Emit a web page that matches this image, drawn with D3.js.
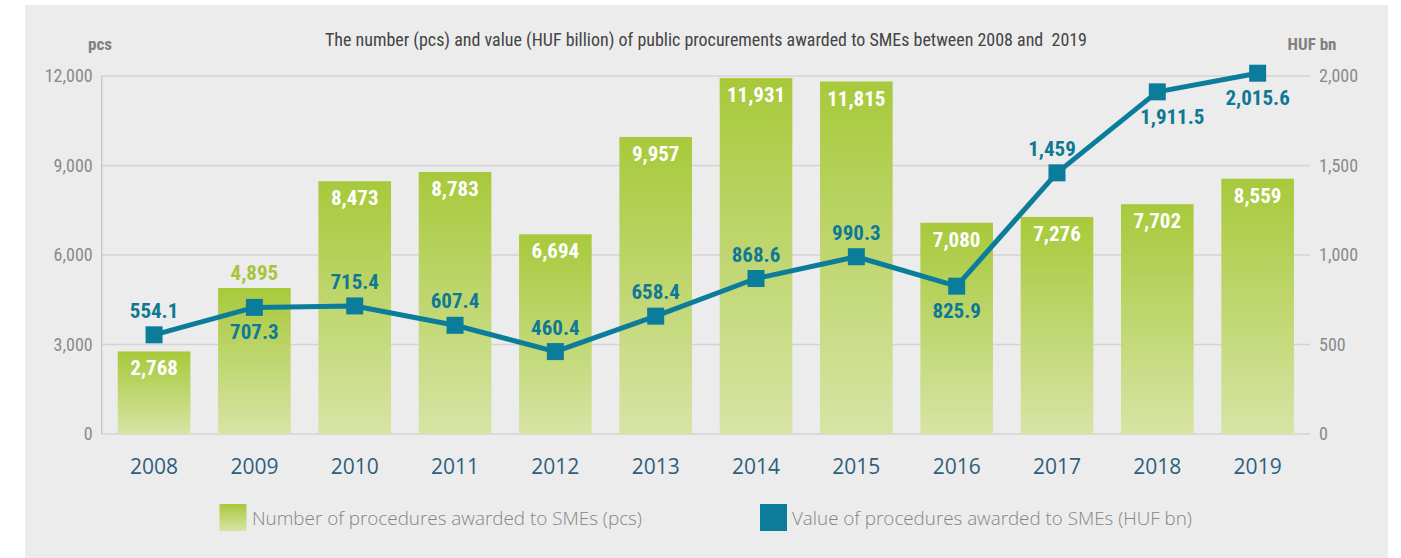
<!DOCTYPE html>
<html>
<head>
<meta charset="utf-8">
<script src="https://cdn.jsdelivr.net/npm/d3@7"></script>
<style>
  body { margin: 0; background: #fff; }
  svg { display: block; }
  .narrow { font-family: "Liberation Sans Narrow", "Roboto Condensed", "DejaVu Sans Condensed", "Liberation Sans", sans-serif; font-stretch: condensed; }
  .regular { font-family: "Open Sans", "Noto Sans", sans-serif; }
</style>
</head>
<body>
<script>
// data
let years = ["2008", "2009", "2010", "2011", "2012", "2013", "2014", "2015", "2016", "2017", "2018", "2019"];
let procCount = [2768, 4895, 8473, 8783, 6694, 9957, 11931, 11815, 7080, 7276, 7702, 8559];
let procValue = [554.1, 707.3, 715.4, 607.4, 460.4, 658.4, 868.6, 990.3, 825.9, 1459, 1911.5, 2015.6];
let leftTicks = [0, 3000, 6000, 9000, 12000];
let rightTicks = [0, 500, 1000, 1500, 2000];
let legendNames = ["Number of procedures awarded to SMEs (pcs)", "Value of procedures awarded to SMEs (HUF bn)"];
let title = "The number (pcs) and value (HUF billion) of public procurements awarded to SMEs between 2008 and  2019";

let W = 1401, H = 558;
let x0 = 101.7, x1 = 1310, yTop = 76, yBot = 434;
let teal = "#0b7d9a";

let svg = d3.select("body").append("svg")
    .attr("width", W)
    .attr("height", H);

// gradient for bars
let defs = svg.append("defs");
let grad = defs.append("linearGradient")
    .attr("id", "barGrad")
    .attr("x1", 0).attr("y1", 0).attr("x2", 0).attr("y2", 1);
grad.append("stop").attr("offset", "0%").attr("stop-color", "#a8c93b");
grad.append("stop").attr("offset", "100%").attr("stop-color", "#d7e4a5");

// grey panel
svg.append("rect")
    .attr("x", 25).attr("y", 5)
    .attr("width", 1363).attr("height", H - 5)
    .attr("fill", "#ececec");

let x = d3.scaleBand()
    .domain(years)
    .range([x0, x1])
    .paddingInner(0.276)
    .paddingOuter(0.16);

let yL = d3.scaleLinear().domain([0, 12000]).range([yBot, yTop]);
let yR = d3.scaleLinear().domain([0, 2000]).range([yBot, yTop]);

// gridlines
svg.append("g").selectAll("line")
    .data(leftTicks)
  .enter().append("line")
    .attr("x1", x0).attr("x2", x1)
    .attr("y1", d => yL(d)).attr("y2", d => yL(d))
    .attr("stroke", "#d3d3d3")
    .attr("stroke-width", 1.6);

svg.append("line")
    .attr("x1", x0).attr("x2", x0)
    .attr("y1", yTop).attr("y2", yBot)
    .attr("stroke", "#c8c8c8")
    .attr("stroke-width", 1.4);

// left axis labels
let axL = svg.append("g")
    .attr("transform", "translate(" + x0 + ",0)")
    .call(d3.axisLeft(yL).tickValues(leftTicks).tickSize(0).tickPadding(9).tickFormat(d3.format(",")));
axL.select(".domain").remove();
axL.selectAll("text")
    .attr("class", "narrow")
    .attr("font-size", 18)
    .attr("fill", "#8a8a8a");

// right axis labels
let axR = svg.append("g")
    .attr("transform", "translate(" + x1 + ",0)")
    .call(d3.axisRight(yR).tickValues(rightTicks).tickSize(0).tickPadding(9).tickFormat(d3.format(",")));
axR.select(".domain").remove();
axR.selectAll("text")
    .attr("class", "narrow")
    .attr("font-size", 18)
    .attr("fill", "#8a8a8a");

// year labels
let axX = svg.append("g")
    .attr("transform", "translate(0," + yBot + ")")
    .call(d3.axisBottom(x).tickSize(0).tickPadding(25));
axX.select(".domain").remove();
axX.selectAll("text")
    .attr("class", "regular")
    .attr("font-size", 21)
    .attr("fill", "#2c5f7e");

// bars
let barData = years.map((y, i) => ({ year: y, v: procCount[i] }));
svg.selectAll(".bar")
    .data(barData)
  .enter().append("rect")
    .attr("class", "bar")
    .attr("x", d => x(d.year))
    .attr("y", d => yL(d.v))
    .attr("width", x.bandwidth())
    .attr("height", d => yBot - yL(d.v))
    .attr("fill", "url(#barGrad)");

// bar value labels (2009 sits above its bar in green)
svg.selectAll(".barLabel")
    .data(barData)
  .enter().append("text")
    .attr("class", "narrow")
    .attr("x", d => x(d.year) + x.bandwidth() / 2)
    .attr("y", d => d.year === "2009" ? yL(d.v) - 8 : yL(d.v) + 24)
    .attr("text-anchor", "middle")
    .attr("font-size", 21)
    .attr("font-weight", "bold")
    .attr("fill", d => d.year === "2009" ? "#a6c63a" : "#ffffff")
    .text(d => d3.format(",")(d.v));

// line
let lineData = years.map((y, i) => ({ year: y, v: procValue[i] }));
let cx = d => x(d.year) + x.bandwidth() / 2;
let line = d3.line().x(cx).y(d => yR(d.v));

svg.append("path")
    .datum(lineData)
    .attr("d", line)
    .attr("fill", "none")
    .attr("stroke", teal)
    .attr("stroke-width", 5)
    .attr("stroke-linejoin", "round");

svg.selectAll(".marker")
    .data(lineData)
  .enter().append("rect")
    .attr("x", d => cx(d) - 8.5)
    .attr("y", d => yR(d.v) - 8.5)
    .attr("width", 17)
    .attr("height", 17)
    .attr("fill", teal);

// label placement for the line values: above (-17) or below (+32), small x nudges
let below = { "2009": true, "2016": true, "2018": true, "2019": true };
let nudge = { "2017": -5, "2018": 15 };
svg.selectAll(".lineLabel")
    .data(lineData)
  .enter().append("text")
    .attr("class", "narrow")
    .attr("x", d => cx(d) + (nudge[d.year] || 0))
    .attr("y", d => yR(d.v) + (below[d.year] ? 32 : -17))
    .attr("text-anchor", "middle")
    .attr("font-size", 21)
    .attr("font-weight", "bold")
    .attr("fill", "#0e7995")
    .text(d => d3.format(",")(d.v));

// title and unit labels
svg.append("text")
    .attr("class", "narrow")
    .attr("x", 706).attr("y", 46)
    .attr("text-anchor", "middle")
    .attr("font-size", 17.5)
    .attr("fill", "#444")
    .attr("textLength", 762)
    .attr("lengthAdjust", "spacingAndGlyphs")
    .style("white-space", "pre")
    .text(title);

svg.append("text")
    .attr("class", "narrow")
    .attr("x", 100).attr("y", 50)
    .attr("text-anchor", "middle")
    .attr("font-size", 17)
    .attr("font-weight", "bold")
    .attr("fill", "#808080")
    .text("pcs");

svg.append("text")
    .attr("class", "narrow")
    .attr("x", 1312).attr("y", 50)
    .attr("text-anchor", "middle")
    .attr("font-size", 17)
    .attr("font-weight", "bold")
    .attr("fill", "#808080")
    .text("HUF bn");

// legend
let legend = [
    { name: legendNames[0], fill: "url(#barGrad)", sx: 219.5, tx: 252, tw: 390 },
    { name: legendNames[1], fill: teal, sx: 760, tx: 792, tw: 400 }
];
let lg = svg.selectAll(".legend")
    .data(legend)
  .enter().append("g");
lg.append("rect")
    .attr("x", d => d.sx).attr("y", 504)
    .attr("width", 27).attr("height", 27)
    .attr("fill", d => d.fill);
lg.append("text")
    .attr("class", "regular")
    .attr("x", d => d.tx).attr("y", 525)
    .attr("font-size", 17.5)
    .attr("font-weight", 300)
    .attr("fill", "#858585")
    .attr("textLength", d => d.tw)
    .attr("lengthAdjust", "spacingAndGlyphs")
    .text(d => d.name);
</script>
</body>
</html>
